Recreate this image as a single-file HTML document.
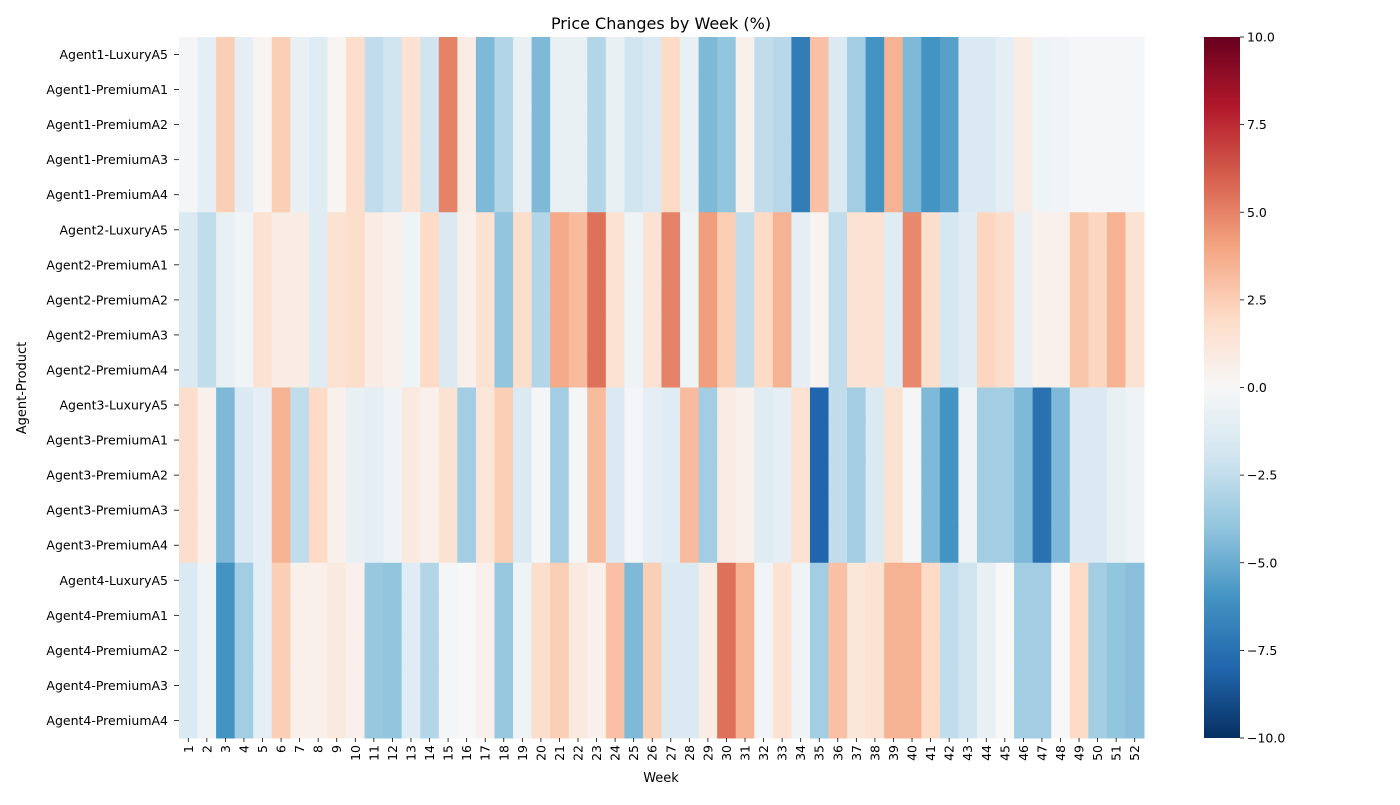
<!DOCTYPE html>
<html><head><meta charset="utf-8"><style>
body{margin:0;background:#fff;}
svg text{font-family:"DejaVu Sans","Liberation Sans",sans-serif;fill:#000;}
</style></head><body>
<svg id="chart" width="1400" height="800"></svg>
<script>
const agents=["Agent1","Agent2","Agent3","Agent4"];
const products=["LuxuryA5","PremiumA1","PremiumA2","PremiumA3","PremiumA4"];
const weeks=Array.from({length:52},(_,i)=>String(i+1));
const agent1=[-0.2,-1,2.5,-1,0.2,2.5,-0.8,-1.2,0.2,1.8,-2.5,-2,1.5,-2,5,0.8,-4.5,-3,-0.8,-4.5,-0.8,-0.8,-3,-0.8,-2,-1.5,2,-0.8,-4.5,-4,0.5,-2.5,-2.8,-7,3,-1.5,-3.5,-6,3.5,-4.5,-6,-5.5,-1.5,-1.5,-1,0.8,-0.5,-0.3,-0.1,-0.1,-0.1,-0.1];
const agent2=[-1.5,-2.5,-0.8,-0.3,1.5,0.8,0.8,-1.2,1.5,1.8,0.8,0.5,-0.5,2,-1.5,0.5,1.5,-4,1.8,-3,3.8,3.2,5.5,1.5,-0.5,1.5,5,-0.5,4.2,2.5,-2.5,2,3.5,-1,0.3,-2.5,1.5,1.5,-1.2,4.8,1.8,-1.8,-1.2,2.2,1.8,-0.8,0.5,0.5,2.8,2.2,3.5,1.5];
const agent3=[1.8,0.5,-4.5,-1.5,-1,3.5,-2.5,2,0.5,-0.8,-1,-0.5,1,0.5,1.5,-3.5,1.2,2.5,-1.5,-0.2,-3.5,-0.2,3.2,-1.5,-0.2,-1,-1.2,3.2,-3.5,0.8,0.5,-1.2,-1,1.5,-8,-2.5,-3.5,-1.5,1.5,-0.2,-4.5,-6,-0.5,-3.5,-3.5,-4.5,-7.5,-4.5,-1.5,-1.5,-0.8,-0.5];
const agent4=[-1.5,-0.5,-6,-3.5,-1,2.5,0.5,0.5,1,0.5,-3.8,-4,-1.2,-3,-0.2,0,0.5,-3.8,-0.5,1.8,2.5,1,0.5,3,-4.5,2.5,-1.5,-1.5,0.8,5.5,3.5,-0.3,1.5,-0.5,-3.5,3,1.2,1.5,3.5,3.5,2,-2.5,-2,-0.8,0,-3.5,-3.5,0,2,-3.5,-4,-4.2];
const series=[agent1,agent2,agent3,agent4];
const cbTicks=[10,7.5,5,2.5,0,-2.5,-5,-7.5,-10];
const cbLabels=["10.0","7.5","5.0","2.5","0.0","\u22122.5","\u22125.0","\u22127.5","\u221210.0"];

const stops=["#053061","#2166ac","#4393c3","#92c5de","#d1e5f0","#f7f7f7","#fddbc7","#f4a582","#d6604d","#b2182b","#67001f"];
function hex(h){return [1,3,5].map(i=>parseInt(h.substr(i,2),16));}
function cmap(v){let t=(Math.max(-10,Math.min(10,v))+10)/20*10;let i=Math.min(9,Math.floor(t));let f=t-i;
 const a=hex(stops[i]),b=hex(stops[i+1]);return "rgb("+a.map((c,k)=>Math.round(c+(b[k]-c)*f)).join(",")+")";}
const X0=179,X1=1144,Y0=37,Y1=738;
const nRows=agents.length*products.length;
const cw=(X1-X0)/weeks.length,rh=(Y1-Y0)/nRows;
const xS=i=>X0+i*cw, yS=r=>Y0+r*rh;
const NS="http://www.w3.org/2000/svg";
const svg=document.getElementById("chart");
function el(tag,attrs,parent){const e=document.createElementNS(NS,tag);for(const k in attrs)e.setAttribute(k,attrs[k]);(parent||svg).appendChild(e);return e;}
const g=el("g",{});


agents.forEach((a,ai)=>products.forEach((p,pi)=>{const r=ai*products.length+pi;
 series[ai].forEach((v,wi)=>{const c=el("rect",{x:xS(wi),y:yS(r),width:cw+0.5,height:rh+0.5,fill:cmap(v)},g);
  
  });
 const t=el("text",{x:168,y:yS(r)+rh/2+4.5,"text-anchor":"end","font-size":12.5});t.textContent=a+"-"+p;
 
 
 el("line",{x1:174,x2:179,y1:yS(r)+rh/2,y2:yS(r)+rh/2,stroke:"#000","stroke-width":0.8});
}));
weeks.forEach((w,i)=>{const cx=xS(i)+cw/2;
 el("line",{x1:cx,x2:cx,y1:Y1,y2:Y1+4,stroke:"#000","stroke-width":0.8});
 const t=el("text",{x:cx+4.5,y:Y1+7,"text-anchor":"end","font-size":12.5,transform:`rotate(-90 ${cx+4.5} ${Y1+7})`});t.textContent=w;
 
 });
let t=el("text",{x:661,y:29,"text-anchor":"middle","font-size":16});t.textContent="Price Changes by Week (%)";


t=el("text",{x:661,y:782,"text-anchor":"middle","font-size":13});t.textContent="Week";


t=el("text",{x:26,y:388,"text-anchor":"middle","font-size":13,transform:"rotate(-90 26 388)"});t.textContent="Agent-Product";


const CX0=1204,CX1=1240;
const defs=el("defs",{});const lg=el("linearGradient",{id:"cb",x1:0,y1:1,x2:0,y2:0},defs);
stops.forEach((s,i)=>el("stop",{offset:(i/10),"stop-color":s},lg));
const cb=el("rect",{x:CX0,y:Y0,width:CX1-CX0,height:Y1-Y0,fill:"url(#cb)"});


const cy=v=>Y1-(v+10)/20*(Y1-Y0);
cbTicks.forEach((v,i)=>{el("line",{x1:CX1,x2:CX1+4,y1:cy(v),y2:cy(v),stroke:"#000","stroke-width":0.8});
 const tt=el("text",{x:CX1+7,y:cy(v)+4.5,"font-size":12.5});tt.textContent=cbLabels[i];
 
 });
</script>
</body></html>
